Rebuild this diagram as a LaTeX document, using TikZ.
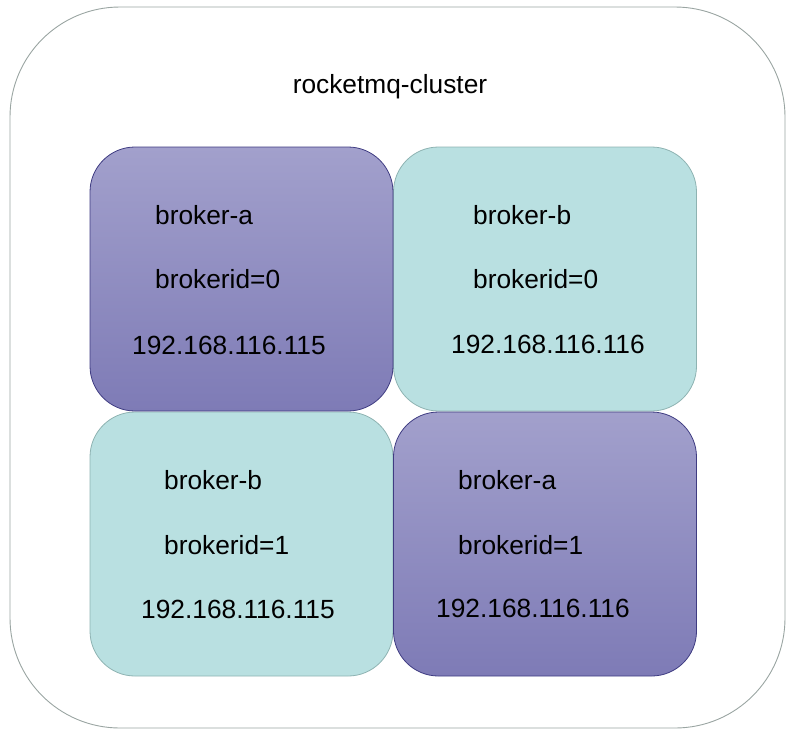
\documentclass[tikz,border=0pt]{standalone}
\usepackage{fontspec}
\setmainfont{Liberation Sans}
\usetikzlibrary{positioning}

\definecolor{purpletop}{HTML}{A2A0CC}
\definecolor{purplebottom}{HTML}{7E7BB6}
\definecolor{purpleline}{HTML}{3F3C82}
\definecolor{tealfill}{HTML}{B9E0E1}
\definecolor{tealline}{HTML}{8EB3B2}
\definecolor{clusterline}{HTML}{9AA5A2}

\begin{document}
\begin{tikzpicture}[
        x=1pt, y=-1pt,
        cluster/.style={
            rectangle,
            draw=clusterline,
            line width=0.9pt,
            rounded corners=110pt, % large outer rounding
            minimum width=775pt,
            minimum height=721pt
        },
        brokerbox/.style={
            rectangle,
            line width=0.8pt,
            rounded corners=45pt,
            minimum width=303pt,
            minimum height=264pt
        },
        masterbox/.style={brokerbox, draw=purpleline, top color=purpletop, bottom color=purplebottom},
        slavebox/.style={brokerbox, draw=tealline, fill=tealfill},
        label/.style={anchor=west, inner sep=0pt, font=\fontsize{26.3}{31}\selectfont}
    ]
        \useasboundingbox (0,0) rectangle (799,740);

        % Cluster frame
        \node [cluster] (cluster) at (397.5,367.5) {};
        \node [font=\fontsize{26.3}{31}\selectfont] (title) at (390,87) {rocketmq-cluster};

        % Broker boxes
        \node [slavebox] (boxB) at (545,279) {};
        \node [slavebox] (boxC) at (241.5,544) {};
        \node [masterbox] (boxA) at (241.5,279) {};
        \node [masterbox] (boxD) at (545,544) {};

        % Texts of broker-a master
        \node [label] (nameA) at (155,215) {broker-a};
        \node [label] (idA) at (155,279) {brokerid=0};
        \node [label] (ipA) at (132,345) {192.168.116.115};

        % Texts of broker-b master
        \node [label] (nameB) at (473,215) {broker-b};
        \node [label] (idB) at (473,279) {brokerid=0};
        \node [label] (ipB) at (451,344) {192.168.116.116};

        % Texts of broker-b slave
        \node [label] (nameC) at (164,480) {broker-b};
        \node [label] (idC) at (164,545) {brokerid=1};
        \node [label] (ipC) at (141,609) {192.168.116.115};

        % Texts of broker-a slave
        \node [label] (nameD) at (458,480) {broker-a};
        \node [label] (idD) at (458,545) {brokerid=1};
        \node [label] (ipD) at (436,608) {192.168.116.116};
    \end{tikzpicture}
\end{document}
